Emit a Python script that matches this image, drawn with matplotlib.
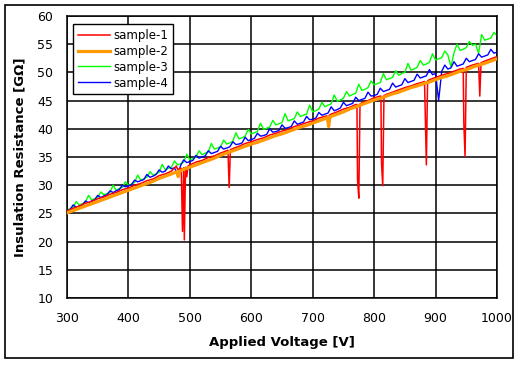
import numpy as np
import matplotlib
matplotlib.use("Agg")
import matplotlib.pyplot as plt
from matplotlib.patches import Rectangle

plt.rcParams['font.family'] = ['DejaVu Sans']

# ------------------------------------------------------------
# data
# ------------------------------------------------------------
# sample-1 : red, follows sample-2 with sharp downward dips
s1_v = [300, 310, 320, 330, 340, 350, 360, 370, 380, 390, 400, 410, 420, 430, 440, 450,
        460, 470, 478, 480, 486, 488, 490, 491, 493, 495, 497, 500, 510, 520, 530, 540,
        550, 560, 562, 564, 566, 570, 580, 590, 600, 610, 620, 630, 640, 650, 660, 670,
        680, 690, 700, 710, 720, 723, 725, 727, 730, 740, 750, 760, 770, 772, 773, 775,
        777, 780, 790, 800, 810, 811, 812, 814, 816, 820, 830, 840, 850, 860, 870, 880,
        882, 883, 885, 887, 890, 900, 910, 920, 930, 940, 945, 946, 948, 950, 960, 970,
        972, 974, 980, 990, 1000]
s1_r = [25.4, 25.9, 26.3, 26.8, 27.1, 27.6, 27.9, 28.4, 28.7, 29.2, 29.5, 30.0, 30.3, 30.8, 31.1, 31.7,
        32.0, 32.5, 33.4, 32.8, 33.0, 21.8, 33.1, 20.3, 33.2, 31.5, 33.4, 33.6, 34.1, 34.4, 34.9, 35.2,
        35.7, 36.1, 36.2, 29.6, 36.3, 36.5, 36.9, 37.4, 37.7, 38.1, 38.4, 38.9, 39.2, 39.6, 39.9, 40.4,
        40.7, 41.1, 41.4, 41.9, 42.2, 42.3, 40.5, 42.4, 42.6, 43.0, 43.5, 43.8, 44.3, 44.3, 30.9, 27.7,
        44.4, 44.6, 45.0, 45.5, 45.8, 45.8, 33.9, 29.9, 45.9, 46.1, 46.5, 46.9, 47.3, 47.6, 48.0, 48.3,
        48.4, 43.7, 33.6, 48.5, 48.7, 49.1, 49.5, 49.8, 50.2, 50.6, 50.7, 41.0, 35.1, 50.9, 51.3, 51.6,
        45.8, 51.7, 52.0, 52.4, 52.8]

# sample-2 : orange, the lowest and smoothest curve
s2_v = [300, 310, 320, 330, 340, 350, 360, 370, 380, 390, 400, 410, 420, 430, 440, 450,
        460, 470, 479, 481, 483, 490, 500, 510, 520, 530, 540, 550, 560, 570, 580, 590,
        600, 610, 620, 630, 640, 650, 660, 670, 680, 690, 700, 710, 720, 724, 726, 728,
        730, 740, 750, 760, 770, 780, 790, 800, 810, 820, 830, 840, 850, 860, 870, 880,
        890, 900, 910, 920, 930, 940, 950, 960, 970, 980, 990, 1000]
s2_r = [25.1, 25.5, 25.9, 26.3, 26.7, 27.1, 27.5, 27.9, 28.3, 28.7, 29.1, 29.5, 29.9, 30.3, 30.7, 31.2,
        31.6, 32.0, 32.4, 31.5, 32.5, 32.8, 33.2, 33.6, 34.0, 34.4, 34.8, 35.3, 35.7, 36.1, 36.5, 36.9,
        37.3, 37.6, 38.0, 38.4, 38.8, 39.1, 39.5, 39.9, 40.3, 40.6, 41.0, 41.4, 41.8, 42.0, 40.4, 42.1,
        42.2, 42.6, 43.0, 43.5, 43.9, 44.3, 44.7, 45.1, 45.4, 45.8, 46.2, 46.5, 46.9, 47.3, 47.6, 48.0,
        48.3, 48.7, 49.1, 49.4, 49.8, 50.2, 50.5, 50.9, 51.3, 51.6, 52.0, 52.4]

# sample-3 / sample-4 : measured every 5 V from 300 V to 1000 V
v_5 = np.arange(300, 1001, 5)
s3_r = [25.6, 25.8, 26.1, 27.1, 26.5, 26.7, 27.0, 28.2, 27.4, 27.6, 27.8, 28.8, 28.3, 28.5, 28.7, 30.0,
        29.1, 29.4, 29.6, 30.6, 30.0, 30.2, 30.5, 31.8, 30.9, 31.1, 31.4, 32.4, 31.8, 32.0, 32.3, 33.7,
        32.7, 33.0, 33.2, 34.3, 33.6, 33.8, 34.1, 35.5, 34.5, 34.7, 35.0, 36.1, 35.4, 35.7, 35.9, 37.4,
        36.4, 36.6, 36.8, 38.0, 37.3, 37.5, 37.8, 39.3, 38.2, 38.4, 38.7, 39.9, 39.1, 39.3, 39.5, 41.0,
        39.9, 40.1, 40.3, 41.5, 40.7, 40.9, 41.1, 42.7, 41.4, 41.6, 41.8, 43.0, 42.2, 42.4, 42.6, 44.2,
        43.0, 43.2, 43.5, 44.7, 43.9, 44.2, 44.4, 46.0, 44.9, 45.1, 45.4, 46.6, 45.8, 46.1, 46.3, 47.9,
        46.8, 47.0, 47.3, 48.5, 47.8, 48.0, 48.2, 49.8, 48.7, 48.9, 49.1, 50.3, 49.5, 49.8, 50.0, 51.6,
        50.4, 50.6, 50.9, 52.1, 51.3, 51.5, 51.8, 53.3, 52.2, 52.4, 52.6, 53.8, 53.1, 51.0, 53.5, 55.0,
        53.9, 54.1, 54.4, 55.5, 54.8, 55.0, 53.4, 56.7, 55.7, 55.9, 56.1, 57.1, 56.5]
s4_r = [25.5, 25.7, 26.5, 26.1, 26.3, 26.5, 27.2, 26.9, 27.2, 27.4, 28.2, 27.8, 28.1, 28.3, 29.0, 28.7,
        29.0, 29.2, 30.0, 29.7, 29.9, 30.1, 30.9, 30.6, 30.8, 31.0, 31.9, 31.4, 31.6, 31.9, 32.7, 32.3,
        32.5, 33.4, 32.9, 33.1, 31.8, 33.5, 34.5, 34.0, 34.2, 34.4, 35.3, 34.8, 35.0, 35.2, 36.1, 35.6,
        35.8, 36.0, 36.9, 36.4, 36.6, 36.8, 37.7, 37.2, 37.3, 37.5, 38.5, 37.9, 38.1, 38.3, 39.2, 38.7,
        38.8, 39.0, 40.0, 39.4, 39.5, 39.7, 40.7, 40.1, 40.2, 40.4, 41.4, 40.8, 41.0, 41.2, 42.2, 41.6,
        41.7, 41.9, 42.9, 42.4, 42.6, 42.8, 43.9, 43.2, 43.4, 43.7, 44.7, 44.1, 44.3, 44.5, 45.6, 45.0,
        45.2, 45.4, 46.5, 45.8, 45.9, 46.1, 47.2, 46.6, 46.8, 47.0, 48.1, 47.4, 47.6, 47.8, 48.9, 48.2,
        48.4, 48.6, 49.7, 49.0, 49.2, 49.4, 50.5, 49.6, 49.8, 45.0, 50.2, 51.3, 50.6, 50.8, 51.9, 51.1,
        51.3, 51.5, 52.5, 51.9, 52.1, 52.3, 53.3, 52.7, 52.9, 53.1, 54.1, 53.4, 53.6]

x_ticks = [300, 400, 500, 600, 700, 800, 900, 1000]
y_ticks = [10, 15, 20, 25, 30, 35, 40, 45, 50, 55, 60]

# ------------------------------------------------------------
# plot
# ------------------------------------------------------------
fig = plt.figure(figsize=(5.2, 3.65), dpi=100)
fig.patches.append(Rectangle((5 / 520, 1 - 358 / 365), 508 / 520, 353 / 365,
                             transform=fig.transFigure, fill=False,
                             edgecolor='black', linewidth=1.2))
ax = fig.add_axes([67 / 520, 1 - 298 / 365, 430 / 520, 282 / 365])

ax.plot(s1_v, s1_r, color='#FF0000', linewidth=1.1, label='sample-1', zorder=4)
ax.plot(s2_v, s2_r, color='#FF9900', linewidth=2.3, label='sample-2', zorder=5)
ax.plot(v_5, s3_r, color='#00FF00', linewidth=1.0, label='sample-3', zorder=2)
ax.plot(v_5, s4_r, color='#0000FF', linewidth=1.0, label='sample-4', zorder=3)

ax.set_xlim(300, 1000)
ax.set_ylim(10, 60)
ax.set_xticks(x_ticks)
ax.set_yticks(y_ticks)
ax.tick_params(length=0, labelsize=9, pad=10)
ax.grid(True, color='black', linewidth=1.1)
ax.set_axisbelow(True)
for sp in ax.spines.values():
    sp.set_linewidth(1.1)

ax.set_xlabel('Applied Voltage [V]', fontsize=9.5, fontweight='bold', labelpad=8)
ax.set_ylabel('Insulation Resistance [GΩ]', fontsize=9.5, fontweight='bold', labelpad=8)

leg = ax.legend(loc='upper left', bbox_to_anchor=(6 / 430, 1 - 8 / 282), borderaxespad=0,
                fontsize=8.5, frameon=True, fancybox=False, handlelength=2.7,
                handletextpad=0.3, labelspacing=0.25, borderpad=0.4)
leg.get_frame().set_edgecolor('black')
leg.get_frame().set_linewidth(1.0)
leg.get_frame().set_alpha(1)

plt.savefig('out.png', dpi=100)
plt.close()
